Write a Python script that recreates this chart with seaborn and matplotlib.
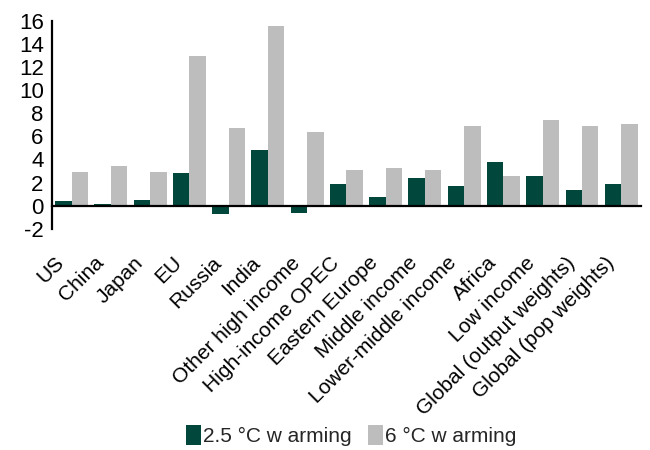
import matplotlib
matplotlib.use("Agg")
import matplotlib.pyplot as plt
import matplotlib.transforms as mtransforms
import seaborn as sns
import pandas as pd
import numpy as np

regions = ["US", "China", "Japan", "EU", "Russia", "India", "Other high income",
           "High-income OPEC", "Eastern Europe", "Middle income", "Lower-middle income",
           "Africa", "Low income", "Global (output weights)", "Global (pop weights)"]
warming_25 = [0.4, 0.17, 0.5, 2.8, -0.7, 4.85, -0.6, 1.9, 0.75, 2.4, 1.7, 3.8, 2.6, 1.35, 1.9]
warming_6 = [2.95, 3.45, 2.95, 12.95, 6.75, 15.55, 6.4, 3.1, 3.25, 3.1, 6.9, 2.6, 7.4, 6.9, 7.05]
series_names = ["2.5 \u00b0C w arming", "6 \u00b0C w arming"]
colors = ["#02473B", "#BDBDBD"]
yticks = [-2, 0, 2, 4, 6, 8, 10, 12, 14, 16]

df = pd.DataFrame({
    "region": regions * 2,
    "value": warming_25 + warming_6,
    "series": [series_names[0]] * len(regions) + [series_names[1]] * len(regions),
})

sns.set_style("white")
plt.rcParams["font.family"] = ["Liberation Sans", "DejaVu Sans"]
FS = 15

fig = plt.figure(figsize=(6.5, 4.5), dpi=100)
ax = fig.add_axes([0.08, 0.4916, 0.906, 0.4624])

sns.barplot(data=df, x="region", y="value", hue="series", palette=colors,
            width=0.84, errorbar=None, saturation=1, ax=ax, linewidth=0)

ax.set_ylim(-2, 16)
ax.set_xlim(-0.5, len(regions) - 0.5)
ax.set_yticks(yticks)
ax.set_yticklabels([str(t) for t in yticks], fontsize=16)
ax.set_xlabel("")
ax.set_ylabel("")

# axis line at zero with separators between categories
ax.spines["top"].set_visible(False)
ax.spines["right"].set_visible(False)
ax.spines["bottom"].set_position(("data", 0))
for s in ("left", "bottom"):
    ax.spines[s].set_color("black")
    ax.spines[s].set_linewidth(1.6)

ax.set_xticks(np.arange(len(regions)))
ax.set_xticklabels(regions, rotation=45, ha="right", rotation_mode="anchor", fontsize=FS)
ax.set_xticks(np.arange(len(regions) + 1) - 0.5, minor=True)
ax.tick_params(axis="x", which="major", length=0, pad=27)
ax.tick_params(axis="x", which="minor", length=5, width=1.6, direction="out", color="black")
ax.tick_params(axis="y", length=5, width=1.6, direction="out", color="black", pad=1)
ax.tick_params(axis="both", colors="black", labelcolor="black")

# nudge the slanted category labels so their ends sit just left of each group
shift = mtransforms.ScaledTranslation(-17 / 100, -10 / 100, fig.dpi_scale_trans)
for lbl in ax.get_xticklabels():
    lbl.set_transform(lbl.get_transform() + shift)

leg = ax.legend(loc="lower center", bbox_to_anchor=(0.54, 0.004), bbox_transform=fig.transFigure,
                ncol=2, frameon=False, fontsize=FS, handlelength=0.7, handleheight=1.1,
                handletextpad=0.1, columnspacing=0.8, borderaxespad=0.0, borderpad=0.1)

fig.savefig("out.png", dpi=100, facecolor="white")
